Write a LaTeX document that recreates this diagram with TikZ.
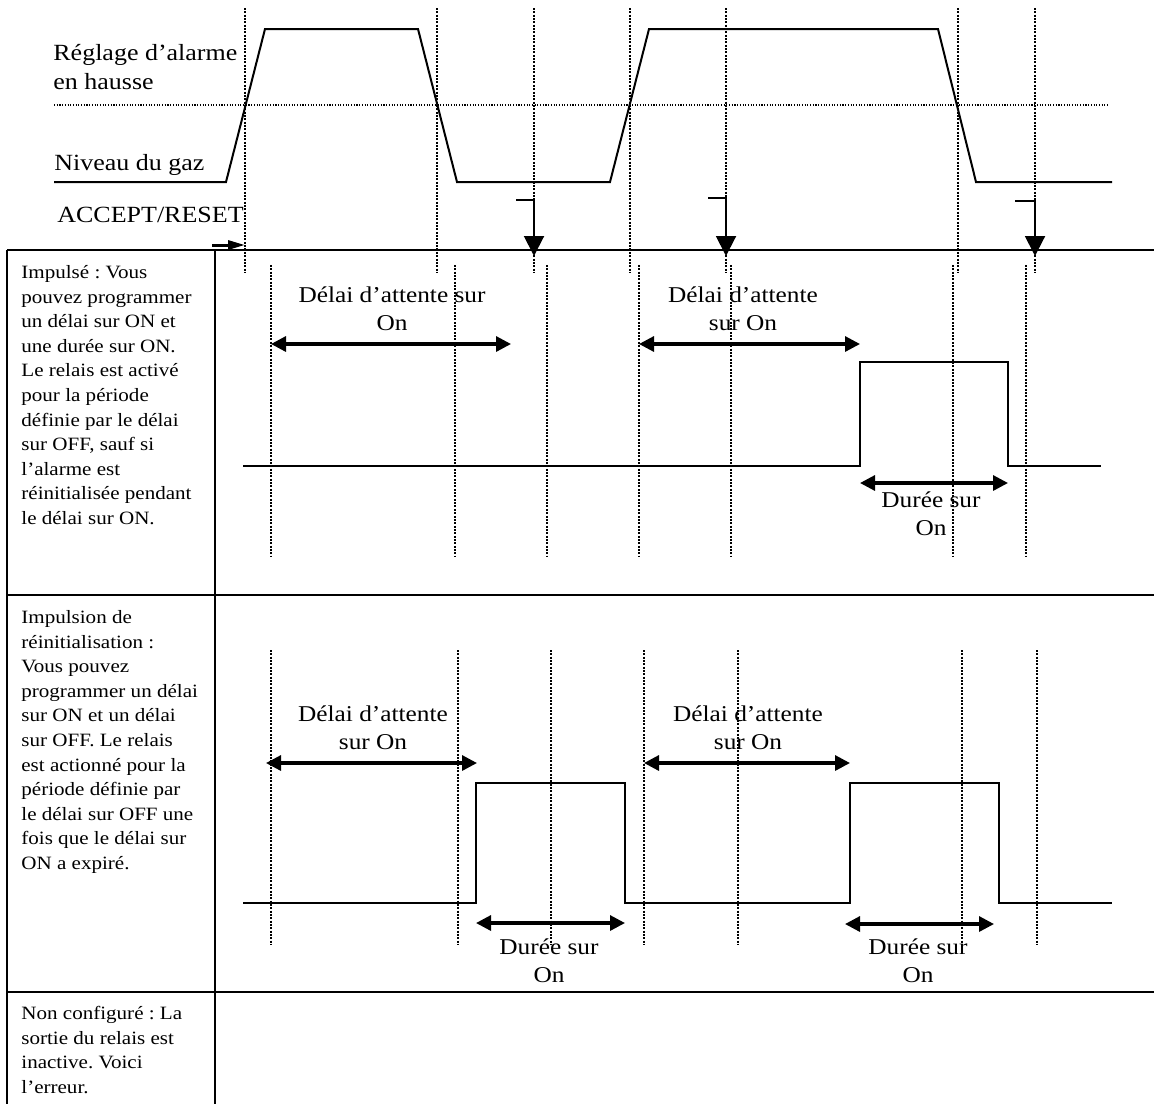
\documentclass[tikz,border=0pt]{standalone}
\usepackage{fontspec}
\setmainfont{Liberation Serif}[FakeStretch=1.12]
\usetikzlibrary{arrows.meta}
\frenchspacing

\begin{document}
\begin{tikzpicture}[x=0.5pt,y=-0.5pt]
\tikzset{
  rowtext/.style={anchor=north west,align=left,inner sep=0pt,font=\fontsize{9.4}{12.3}\selectfont},
  charttext/.style={align=center,inner sep=0pt,font=\fontsize{11.3}{14}\selectfont},
  toptext/.style={anchor=north west,align=left,inner sep=0pt,font=\fontsize{11.6}{14.5}\selectfont},
  gridline/.style={draw=black,line width=1pt},
  timemark/.style={draw=black,line width=1pt,dash pattern=on 1pt off 0.67pt},
  threshold/.style={draw=black,line width=0.55pt,dash pattern=on 0.55pt off 0.8pt},
  gaswave/.style={draw=black,line width=1pt,line join=miter},
  relaywave/.style={draw=black,line width=0.75pt},
  spanarrow/.style={draw=black,line width=1.6pt,{Triangle[length=7.5pt,width=7.5pt]}-{Triangle[length=7.5pt,width=7.5pt]}},
  resetarrow/.style={draw=black,line width=1pt,-{Triangle[length=10pt,width=10pt]}},
  startarrow/.style={draw=black,line width=1.5pt,-{Triangle[length=8.5pt,width=4.5pt]}}
}
\useasboundingbox (0,0) rectangle (1154,1104);
% table
\draw[gridline] (7,250) -- (1154,250);
\draw[gridline] (7,595) -- (1154,595);
\draw[gridline] (7,992) -- (1154,992);
\draw[gridline] (7,250) -- (7,1104);
\draw[gridline] (215,250) -- (215,1104);
% top signal
\node[toptext] (n_alarm) at (53,44) {Réglage d’alarme\\en hausse};
\node[toptext,anchor=base west] (n_gas) at (54,170) {Niveau du gaz};
\node[toptext,anchor=base west] (n_accept) at (57,222) {ACCEPT/RESET};
\draw[threshold] (54,105) -- (1108,105);
\draw[gaswave] (54,182) -- (226,182) -- (265,29) -- (418,29) -- (457,182) -- (610,182)
  -- (649,29) -- (938,29) -- (976,182) -- (1112,182);
\draw[timemark] (245,8) -- (245,273);
\draw[timemark] (437,8) -- (437,273);
\draw[timemark] (534,8) -- (534,273);
\draw[timemark] (630,8) -- (630,273);
\draw[timemark] (726,8) -- (726,273);
\draw[timemark] (958,8) -- (958,273);
\draw[timemark] (1035,8) -- (1035,273);
\coordinate (c_start0) at (212,245);
\coordinate (c_start1) at (245,245);
\coordinate (c_rst1a) at (516,200);
\coordinate (c_rst1b) at (534,200);
\coordinate (c_rst1c) at (534,256);
\coordinate (c_rst2a) at (708,198);
\coordinate (c_rst2b) at (726,198);
\coordinate (c_rst2c) at (726,256);
\coordinate (c_rst3a) at (1015,201);
\coordinate (c_rst3b) at (1035,201);
\coordinate (c_rst3c) at (1035,256);
\draw[startarrow] (c_start0) -- (c_start1);
\draw[resetarrow] (c_rst1a) -- (c_rst1b) -- (c_rst1c);
\draw[resetarrow] (c_rst2a) -- (c_rst2b) -- (c_rst2c);
\draw[resetarrow] (c_rst3a) -- (c_rst3b) -- (c_rst3c);
% row 1
\node[rowtext] (n_pulse) at (21,265) {Impulsé : Vous\\pouvez programmer\\un délai sur ON et\\une durée sur ON.\\Le relais est activé\\pour la période\\définie par le délai\\sur OFF, sauf si\\l’alarme est\\réinitialisée pendant\\le délai sur ON.};
\draw[timemark] (271,265) -- (271,557);
\draw[timemark] (455,265) -- (455,557);
\draw[timemark] (547,265) -- (547,557);
\draw[timemark] (639,265) -- (639,557);
\draw[timemark] (731,265) -- (731,557);
\draw[timemark] (953,265) -- (953,557);
\draw[timemark] (1026,265) -- (1026,557);
\draw[relaywave] (243,466) -- (860,466) -- (860,362) -- (1008,362) -- (1008,466) -- (1101,466);
\node[charttext] (n_wait1) at (392,309) {Délai d’attente sur\\On};
\node[charttext] (n_wait2) at (743,309) {Délai d’attente\\sur On};
\node[charttext] (n_dur1) at (931,514) {Durée sur\\On};
\coordinate (c_w1a) at (271,344);
\coordinate (c_w1b) at (511,344);
\coordinate (c_w2a) at (639,344);
\coordinate (c_w2b) at (860,344);
\coordinate (c_d1a) at (860,483);
\coordinate (c_d1b) at (1008,483);
\draw[spanarrow] (c_w1a) -- (c_w1b);
\draw[spanarrow] (c_w2a) -- (c_w2b);
\draw[spanarrow] (c_d1a) -- (c_d1b);
% row 2
\node[rowtext] (n_resetpulse) at (21,610) {Impulsion de\\réinitialisation :\\Vous pouvez\\programmer un délai\\sur ON et un délai\\sur OFF. Le relais\\est actionné pour la\\période définie par\\le délai sur OFF une\\fois que le délai sur\\ON a expiré.};
\draw[timemark] (271,650) -- (271,944);
\draw[timemark] (458,650) -- (458,944);
\draw[timemark] (551,650) -- (551,944);
\draw[timemark] (644,650) -- (644,944);
\draw[timemark] (738,650) -- (738,944);
\draw[timemark] (962,650) -- (962,944);
\draw[timemark] (1037,650) -- (1037,944);
\draw[relaywave] (243,903) -- (476,903) -- (476,783) -- (625,783) -- (625,903) -- (850,903)
  -- (850,783) -- (999,783) -- (999,903) -- (1112,903);
\node[charttext] (n_wait3) at (373,728) {Délai d’attente\\sur On};
\node[charttext] (n_wait4) at (748,728) {Délai d’attente\\sur On};
\node[charttext] (n_dur2) at (549,961) {Durée sur\\On};
\node[charttext] (n_dur3) at (918,961) {Durée sur\\On};
\coordinate (c_w3a) at (266,763);
\coordinate (c_w3b) at (477,763);
\coordinate (c_w4a) at (644,763);
\coordinate (c_w4b) at (850,763);
\coordinate (c_d2a) at (476,923);
\coordinate (c_d2b) at (625,923);
\coordinate (c_d3a) at (845,924);
\coordinate (c_d3b) at (994,924);
\draw[spanarrow] (c_w3a) -- (c_w3b);
\draw[spanarrow] (c_w4a) -- (c_w4b);
\draw[spanarrow] (c_d2a) -- (c_d2b);
\draw[spanarrow] (c_d3a) -- (c_d3b);
% row 3
\node[rowtext] (n_none) at (21,1006) {Non configuré : La\\sortie du relais est\\inactive. Voici\\l’erreur.};
\end{tikzpicture}
\end{document}
